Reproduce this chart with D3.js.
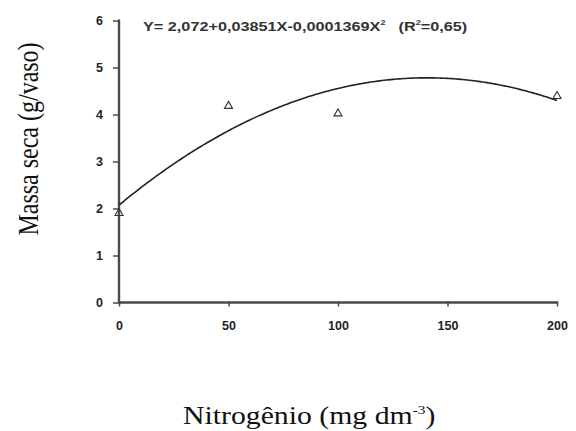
<!DOCTYPE html>
<html><head><meta charset="utf-8">
<script src="https://cdn.jsdelivr.net/npm/d3@7/dist/d3.min.js"></script>
<style>body{margin:0;background:#fff}svg{display:block}</style>
</head><body>
<script>
const doses = [0, 50, 100, 200];
const massa = [1.9, 4.18, 4.02, 4.39];
const coef = [2.072, 0.03851, -0.0001369];
const xTicks = [0, 50, 100, 150, 200];
const yTicks = [0, 1, 2, 3, 4, 5, 6];
const equation = "Y= 2,072+0,03851X-0,0001369X";
const W = 576, H = 431;
const svg = d3.select("body").append("svg").attr("width", W).attr("height", H);
const x = d3.scaleLinear().domain([0, 200]).range([119, 557]);
const y = d3.scaleLinear().domain([0, 6]).range([302.5, 20.5]);
const axCol = "#4a4a4a";
const sans = "Liberation Sans, Arial, sans-serif";
const serif = "Liberation Serif, Times New Roman, serif";
// axis lines
svg.append("path")
  .attr("d", `M${x(0)},${y(6)}L${x(0)},${y(0)}L${x(200)},${y(0)}`)
  .attr("fill", "none").attr("stroke", axCol).attr("stroke-width", 2.4).attr("stroke-linecap", "round");
const gx = svg.append("g").attr("transform", `translate(0,${y(0)})`)
  .call(d3.axisBottom(x).tickValues(xTicks).tickSize(5).tickPadding(14).tickSizeOuter(0).tickFormat(d3.format("d")));
const gy = svg.append("g").attr("transform", `translate(${x(0)},0)`)
  .call(d3.axisLeft(y).tickValues(yTicks).tickSize(6).tickPadding(10).tickSizeOuter(0).tickFormat(d3.format("d")));
[gx, gy].forEach(g => {
  g.select(".domain").remove();
  g.selectAll(".tick line").attr("stroke", axCol).attr("stroke-width", 1.5);
  g.selectAll(".tick text").attr("fill", "#222").attr("font-family", sans)
    .attr("font-weight", "bold").attr("font-size", 12.5);
});
gx.selectAll(".tick line").attr("y1", -1).attr("y2", 4);
// curve
const xs = d3.range(0, 200.5, 1);
const line = d3.line().x(d => x(d)).y(d => y(coef[0] + coef[1]*d + coef[2]*d*d));
svg.append("path").datum(xs).attr("d", line).attr("fill", "none").attr("stroke", "#222").attr("stroke-width", 1.6);
// points
const tri = d3.symbol().type(d3.symbolTriangle).size(28);
svg.selectAll(".pt").data(doses).enter().append("path")
  .attr("transform", (d, i) => `translate(${x(d)},${y(massa[i])})`)
  .attr("d", tri).attr("fill", "none").attr("stroke", "#333").attr("stroke-width", 1.1);
// equation
const eq = svg.append("text").attr("transform", "translate(143,31) scale(1.3,1)")
  .attr("font-family", sans).attr("font-weight", "bold")
  .attr("font-size", 12.5).attr("fill", "#333");
eq.append("tspan").text(equation);
eq.append("tspan").text("2").attr("font-size", 7).attr("dy", -6);
eq.append("tspan").text("(R").attr("font-size", 12.5).attr("dy", 6).attr("dx", 10);
eq.append("tspan").text("2").attr("font-size", 7).attr("dy", -6);
eq.append("tspan").text("=0,65)").attr("font-size", 12.5).attr("dy", 6);
// titles
svg.append("text").attr("transform", "translate(38,139) scale(1.2,1) rotate(-90)").attr("text-anchor", "middle")
  .attr("font-family", serif).attr("font-size", 24).attr("fill", "#111")
  .text("Massa seca (g/vaso)");
const xt = svg.append("text").attr("transform", "translate(183,424) scale(1.19,1)")
  .attr("font-family", serif).attr("font-size", 25).attr("fill", "#111");
xt.append("tspan").text("Nitrogênio (mg dm");
xt.append("tspan").text("-3").attr("font-size", 13).attr("dy", -10);
xt.append("tspan").text(")").attr("dy", 10);
</script>
</body></html>
